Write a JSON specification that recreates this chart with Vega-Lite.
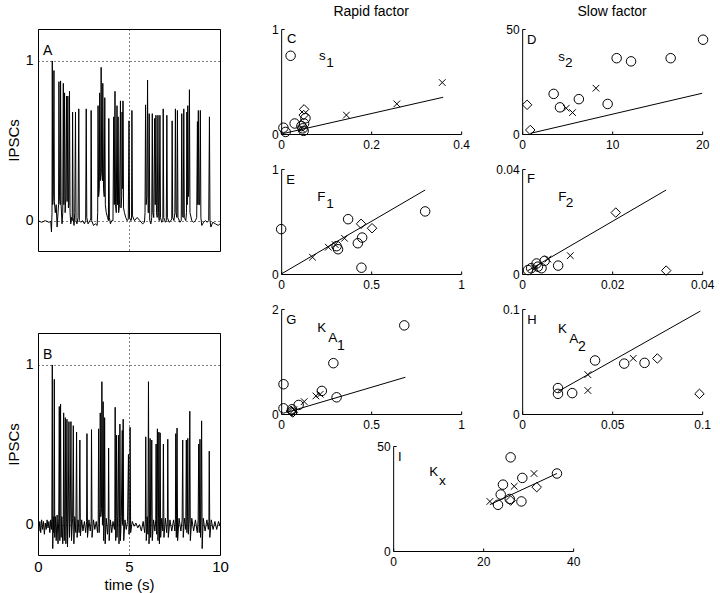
{
"$schema": "https://vega.github.io/schema/vega-lite/v6.json",
"padding": {"left": 5, "top": 5, "right": 5, "bottom": 3},
"config": {
  "font": "Liberation Sans",
  "view": {"stroke": null},
  "title": {"font": "Liberation Sans", "fontSize": 14, "fontWeight": "normal", "color": "black", "offset": 4},
  "axis": {"format": "~r", "domainColor": "black", "tickColor": "black", "labelColor": "black", "titleColor": "black", "grid": false, "labelFlush": false, "labelFont": "Liberation Sans", "titleFont": "Liberation Sans", "labelFontSize": 12, "tickSize": -3, "labelPadding": 8, "titleFontWeight": "normal", "domainWidth": 1, "tickWidth": 1, "labelOverlap": false}
},
"datasets": {
  "ts": [
    {"panel":"A","t":0,"v":0.0},{"panel":"A","t":0.2,"v":-0.01},{"panel":"A","t":0.4,"v":0.0},{"panel":"A","t":0.6,"v":-0.01},{"panel":"A","t":0.7,"v":-0.005},{"panel":"A","t":0.74,"v":-0.07},{"panel":"A","t":0.77,"v":0.05},{"panel":"A","t":0.785,"v":1.0},{"panel":"A","t":0.81,"v":0.1},{"panel":"A","t":0.84,"v":0.15},{"panel":"A","t":0.876,"v":0.94},{"panel":"A","t":0.9,"v":0.12},{"panel":"A","t":0.95,"v":0.05},{"panel":"A","t":1.0,"v":0.1},{"panel":"A","t":1.05,"v":-0.04},{"panel":"A","t":1.1,"v":0.05},{"panel":"A","t":1.13,"v":0.1},{"panel":"A","t":1.15,"v":0.87},{"panel":"A","t":1.18,"v":0.15},{"panel":"A","t":1.22,"v":0.1},{"panel":"A","t":1.24,"v":0.875},{"panel":"A","t":1.27,"v":0.1},{"panel":"A","t":1.32,"v":-0.02},{"panel":"A","t":1.36,"v":0.05},{"panel":"A","t":1.39,"v":0.86},{"panel":"A","t":1.42,"v":0.1},{"panel":"A","t":1.46,"v":0.80},{"panel":"A","t":1.49,"v":0.05},{"panel":"A","t":1.53,"v":0.15},{"panel":"A","t":1.57,"v":0.78},{"panel":"A","t":1.6,"v":0.12},{"panel":"A","t":1.64,"v":0.78},{"panel":"A","t":1.67,"v":0.08},{"panel":"A","t":1.7,"v":0.1},{"panel":"A","t":1.73,"v":0.81},{"panel":"A","t":1.76,"v":0.05},{"panel":"A","t":1.8,"v":-0.02},{"panel":"A","t":1.84,"v":0.02},{"panel":"A","t":1.88,"v":0.0},{"panel":"A","t":1.9,"v":0.68},{"panel":"A","t":1.93,"v":0.02},{"panel":"A","t":1.98,"v":-0.03},{"panel":"A","t":2.02,"v":0.05},{"panel":"A","t":2.06,"v":0.68},{"panel":"A","t":2.09,"v":0.0},{"panel":"A","t":2.14,"v":-0.02},{"panel":"A","t":2.2,"v":0.02},{"panel":"A","t":2.24,"v":0.70},{"panel":"A","t":2.27,"v":0.0},{"panel":"A","t":2.35,"v":-0.01},{"panel":"A","t":2.45,"v":0.0},{"panel":"A","t":2.55,"v":-0.02},{"panel":"A","t":2.62,"v":0.0},{"panel":"A","t":2.65,"v":0.70},{"panel":"A","t":2.68,"v":0.02},{"panel":"A","t":2.75,"v":-0.02},{"panel":"A","t":2.85,"v":0.0},{"panel":"A","t":2.9,"v":0.01},{"panel":"A","t":2.92,"v":0.69},{"panel":"A","t":2.95,"v":0.0},{"panel":"A","t":3.05,"v":-0.03},{"panel":"A","t":3.15,"v":-0.02},{"panel":"A","t":3.25,"v":-0.03},{"panel":"A","t":3.28,"v":0.05},{"panel":"A","t":3.30,"v":0.72},{"panel":"A","t":3.33,"v":0.15},{"panel":"A","t":3.37,"v":0.2},{"panel":"A","t":3.39,"v":0.80},{"panel":"A","t":3.42,"v":0.25},{"panel":"A","t":3.45,"v":0.3},{"panel":"A","t":3.47,"v":0.96},{"panel":"A","t":3.5,"v":0.3},{"panel":"A","t":3.54,"v":0.25},{"panel":"A","t":3.56,"v":0.86},{"panel":"A","t":3.6,"v":0.2},{"panel":"A","t":3.64,"v":0.15},{"panel":"A","t":3.67,"v":0.77},{"panel":"A","t":3.7,"v":0.1},{"panel":"A","t":3.75,"v":0.05},{"panel":"A","t":3.82,"v":0.02},{"panel":"A","t":3.87,"v":0.0},{"panel":"A","t":3.89,"v":0.64},{"panel":"A","t":3.92,"v":0.02},{"panel":"A","t":3.98,"v":-0.02},{"panel":"A","t":4.05,"v":0.0},{"panel":"A","t":4.12,"v":0.0},{"panel":"A","t":4.16,"v":0.65},{"panel":"A","t":4.19,"v":0.1},{"panel":"A","t":4.23,"v":0.81},{"panel":"A","t":4.26,"v":0.1},{"panel":"A","t":4.3,"v":0.05},{"panel":"A","t":4.34,"v":0.72},{"panel":"A","t":4.37,"v":0.1},{"panel":"A","t":4.40,"v":0.65},{"panel":"A","t":4.43,"v":0.05},{"panel":"A","t":4.48,"v":0.1},{"panel":"A","t":4.53,"v":0.75},{"panel":"A","t":4.56,"v":0.08},{"panel":"A","t":4.6,"v":0.15},{"panel":"A","t":4.62,"v":0.68},{"panel":"A","t":4.65,"v":0.2},{"panel":"A","t":4.67,"v":0.75},{"panel":"A","t":4.7,"v":0.08},{"panel":"A","t":4.75,"v":0.05},{"panel":"A","t":4.82,"v":0.02},{"panel":"A","t":4.9,"v":0.0},{"panel":"A","t":4.96,"v":0.01},{"panel":"A","t":5.0,"v":0.625},{"panel":"A","t":5.03,"v":0.02},{"panel":"A","t":5.1,"v":0.0},{"panel":"A","t":5.14,"v":0.01},{"panel":"A","t":5.16,"v":0.69},{"panel":"A","t":5.19,"v":0.03},{"panel":"A","t":5.3,"v":0.0},{"panel":"A","t":5.45,"v":0.02},{"panel":"A","t":5.6,"v":0.0},{"panel":"A","t":5.75,"v":-0.02},{"panel":"A","t":5.85,"v":-0.01},{"panel":"A","t":5.88,"v":0.05},{"panel":"A","t":5.91,"v":0.725},{"panel":"A","t":5.94,"v":0.1},{"panel":"A","t":5.98,"v":0.15},{"panel":"A","t":6.02,"v":0.88},{"panel":"A","t":6.05,"v":0.05},{"panel":"A","t":6.08,"v":0.05},{"panel":"A","t":6.11,"v":0.67},{"panel":"A","t":6.14,"v":0.0},{"panel":"A","t":6.2,"v":-0.02},{"panel":"A","t":6.25,"v":0.02},{"panel":"A","t":6.28,"v":0.67},{"panel":"A","t":6.31,"v":0.05},{"panel":"A","t":6.36,"v":0.02},{"panel":"A","t":6.41,"v":0.64},{"panel":"A","t":6.44,"v":0.1},{"panel":"A","t":6.48,"v":0.66},{"panel":"A","t":6.51,"v":0.05},{"panel":"A","t":6.55,"v":0.02},{"panel":"A","t":6.59,"v":0.66},{"panel":"A","t":6.62,"v":0.05},{"panel":"A","t":6.66,"v":0.0},{"panel":"A","t":6.70,"v":0.66},{"panel":"A","t":6.73,"v":0.02},{"panel":"A","t":6.8,"v":-0.01},{"panel":"A","t":6.86,"v":0.0},{"panel":"A","t":6.88,"v":0.70},{"panel":"A","t":6.91,"v":0.02},{"panel":"A","t":7.0,"v":-0.01},{"panel":"A","t":7.05,"v":0.0},{"panel":"A","t":7.08,"v":0.66},{"panel":"A","t":7.11,"v":0.02},{"panel":"A","t":7.2,"v":-0.01},{"panel":"A","t":7.3,"v":0.0},{"panel":"A","t":7.35,"v":0.01},{"panel":"A","t":7.37,"v":0.625},{"panel":"A","t":7.4,"v":0.02},{"panel":"A","t":7.47,"v":0.0},{"panel":"A","t":7.52,"v":0.05},{"panel":"A","t":7.55,"v":0.70},{"panel":"A","t":7.58,"v":0.05},{"panel":"A","t":7.63,"v":0.02},{"panel":"A","t":7.66,"v":0.69},{"panel":"A","t":7.69,"v":0.02},{"panel":"A","t":7.8,"v":-0.01},{"panel":"A","t":7.87,"v":0.0},{"panel":"A","t":7.9,"v":0.67},{"panel":"A","t":7.93,"v":0.03},{"panel":"A","t":7.98,"v":0.02},{"panel":"A","t":8.01,"v":0.70},{"panel":"A","t":8.04,"v":0.02},{"panel":"A","t":8.12,"v":0.0},{"panel":"A","t":8.16,"v":0.05},{"panel":"A","t":8.18,"v":0.68},{"panel":"A","t":8.2,"v":0.1},{"panel":"A","t":8.23,"v":0.72},{"panel":"A","t":8.26,"v":0.15},{"panel":"A","t":8.29,"v":0.2},{"panel":"A","t":8.32,"v":0.82},{"panel":"A","t":8.35,"v":0.05},{"panel":"A","t":8.45,"v":0.0},{"panel":"A","t":8.55,"v":-0.01},{"panel":"A","t":8.65,"v":0.0},{"panel":"A","t":8.72,"v":0.02},{"panel":"A","t":8.76,"v":0.62},{"panel":"A","t":8.78,"v":0.1},{"panel":"A","t":8.81,"v":0.69},{"panel":"A","t":8.84,"v":0.1},{"panel":"A","t":8.88,"v":0.1},{"panel":"A","t":8.92,"v":0.69},{"panel":"A","t":8.95,"v":0.02},{"panel":"A","t":9.0,"v":-0.03},{"panel":"A","t":9.1,"v":-0.01},{"panel":"A","t":9.2,"v":0.0},{"panel":"A","t":9.3,"v":-0.01},{"panel":"A","t":9.38,"v":0.0},{"panel":"A","t":9.42,"v":0.65},{"panel":"A","t":9.45,"v":0.0},{"panel":"A","t":9.5,"v":-0.04},{"panel":"A","t":9.6,"v":-0.01},{"panel":"A","t":9.75,"v":-0.02},{"panel":"A","t":9.9,"v":-0.03},{"panel":"A","t":10.0,"v":-0.02},
    {"panel":"B","t":0,"v":0.0},{"panel":"B","t":0.05,"v":-0.04},{"panel":"B","t":0.1,"v":0.02},{"panel":"B","t":0.15,"v":-0.05},{"panel":"B","t":0.2,"v":0.03},{"panel":"B","t":0.25,"v":-0.03},{"panel":"B","t":0.3,"v":0.02},{"panel":"B","t":0.35,"v":-0.06},{"panel":"B","t":0.4,"v":0.01},{"panel":"B","t":0.45,"v":-0.03},{"panel":"B","t":0.5,"v":0.03},{"panel":"B","t":0.55,"v":-0.02},{"panel":"B","t":0.6,"v":0.02},{"panel":"B","t":0.65,"v":-0.05},{"panel":"B","t":0.7,"v":0.03},{"panel":"B","t":0.74,"v":-0.03},{"panel":"B","t":0.76,"v":0.04},{"panel":"B","t":0.786,"v":1.0},{"panel":"B","t":0.81,"v":-0.15},{"panel":"B","t":0.84,"v":0.05},{"panel":"B","t":0.87,"v":-0.05},{"panel":"B","t":0.896,"v":0.91},{"panel":"B","t":0.92,"v":-0.08},{"panel":"B","t":0.96,"v":0.05},{"panel":"B","t":1.0,"v":-0.1},{"panel":"B","t":1.05,"v":0.06},{"panel":"B","t":1.1,"v":-0.12},{"panel":"B","t":1.14,"v":0.04},{"panel":"B","t":1.17,"v":0.74},{"panel":"B","t":1.2,"v":-0.1},{"panel":"B","t":1.24,"v":0.755},{"panel":"B","t":1.27,"v":-0.08},{"panel":"B","t":1.31,"v":0.05},{"panel":"B","t":1.36,"v":-0.12},{"panel":"B","t":1.39,"v":0.03},{"panel":"B","t":1.41,"v":0.70},{"panel":"B","t":1.44,"v":-0.1},{"panel":"B","t":1.47,"v":0.02},{"panel":"B","t":1.50,"v":0.67},{"panel":"B","t":1.53,"v":-0.12},{"panel":"B","t":1.56,"v":0.03},{"panel":"B","t":1.59,"v":0.66},{"panel":"B","t":1.62,"v":-0.14},{"panel":"B","t":1.66,"v":0.05},{"panel":"B","t":1.70,"v":0.645},{"panel":"B","t":1.73,"v":-0.08},{"panel":"B","t":1.77,"v":0.04},{"panel":"B","t":1.81,"v":0.645},{"panel":"B","t":1.84,"v":-0.1},{"panel":"B","t":1.9,"v":0.04},{"panel":"B","t":1.94,"v":0.62},{"panel":"B","t":1.97,"v":-0.12},{"panel":"B","t":2.02,"v":0.05},{"panel":"B","t":2.08,"v":-0.05},{"panel":"B","t":2.12,"v":0.58},{"panel":"B","t":2.15,"v":-0.08},{"panel":"B","t":2.2,"v":0.03},{"panel":"B","t":2.26,"v":-0.05},{"panel":"B","t":2.30,"v":0.53},{"panel":"B","t":2.33,"v":-0.07},{"panel":"B","t":2.4,"v":0.03},{"panel":"B","t":2.47,"v":-0.04},{"panel":"B","t":2.55,"v":0.02},{"panel":"B","t":2.62,"v":-0.05},{"panel":"B","t":2.67,"v":0.02},{"panel":"B","t":2.69,"v":0.57},{"panel":"B","t":2.72,"v":-0.08},{"panel":"B","t":2.8,"v":0.03},{"panel":"B","t":2.87,"v":-0.04},{"panel":"B","t":2.92,"v":0.02},{"panel":"B","t":2.94,"v":0.595},{"panel":"B","t":2.97,"v":-0.08},{"panel":"B","t":3.05,"v":0.03},{"panel":"B","t":3.12,"v":-0.03},{"panel":"B","t":3.2,"v":0.02},{"panel":"B","t":3.27,"v":-0.05},{"panel":"B","t":3.31,"v":0.03},{"panel":"B","t":3.33,"v":0.60},{"panel":"B","t":3.36,"v":-0.05},{"panel":"B","t":3.40,"v":0.1},{"panel":"B","t":3.42,"v":0.70},{"panel":"B","t":3.45,"v":0.05},{"panel":"B","t":3.49,"v":0.1},{"panel":"B","t":3.51,"v":0.895},{"panel":"B","t":3.54,"v":0.0},{"panel":"B","t":3.56,"v":0.05},{"panel":"B","t":3.58,"v":0.77},{"panel":"B","t":3.61,"v":-0.1},{"panel":"B","t":3.64,"v":0.05},{"panel":"B","t":3.66,"v":0.67},{"panel":"B","t":3.69,"v":-0.12},{"panel":"B","t":3.75,"v":0.04},{"panel":"B","t":3.82,"v":-0.06},{"panel":"B","t":3.86,"v":0.02},{"panel":"B","t":3.88,"v":0.48},{"panel":"B","t":3.91,"v":-0.1},{"panel":"B","t":3.98,"v":0.03},{"panel":"B","t":4.05,"v":-0.05},{"panel":"B","t":4.12,"v":0.02},{"panel":"B","t":4.2,"v":-0.03},{"panel":"B","t":4.22,"v":0.04},{"panel":"B","t":4.24,"v":0.735},{"panel":"B","t":4.27,"v":-0.1},{"panel":"B","t":4.29,"v":0.05},{"panel":"B","t":4.31,"v":0.56},{"panel":"B","t":4.34,"v":-0.08},{"panel":"B","t":4.38,"v":0.05},{"panel":"B","t":4.42,"v":0.56},{"panel":"B","t":4.45,"v":-0.12},{"panel":"B","t":4.48,"v":0.04},{"panel":"B","t":4.50,"v":0.63},{"panel":"B","t":4.53,"v":-0.1},{"panel":"B","t":4.58,"v":0.05},{"panel":"B","t":4.63,"v":0.59},{"panel":"B","t":4.65,"v":0.0},{"panel":"B","t":4.68,"v":0.66},{"panel":"B","t":4.71,"v":-0.1},{"panel":"B","t":4.78,"v":0.03},{"panel":"B","t":4.85,"v":-0.03},{"panel":"B","t":4.92,"v":0.02},{"panel":"B","t":4.97,"v":0.44},{"panel":"B","t":5.0,"v":-0.06},{"panel":"B","t":5.04,"v":0.02},{"panel":"B","t":5.06,"v":0.61},{"panel":"B","t":5.09,"v":-0.05},{"panel":"B","t":5.18,"v":0.02},{"panel":"B","t":5.28,"v":-0.01},{"panel":"B","t":5.38,"v":0.01},{"panel":"B","t":5.48,"v":-0.02},{"panel":"B","t":5.58,"v":0.0},{"panel":"B","t":5.68,"v":-0.04},{"panel":"B","t":5.78,"v":0.02},{"panel":"B","t":5.86,"v":-0.05},{"panel":"B","t":5.9,"v":0.03},{"panel":"B","t":5.92,"v":0.55},{"panel":"B","t":5.95,"v":-0.1},{"panel":"B","t":6.0,"v":0.05},{"panel":"B","t":6.04,"v":-0.06},{"panel":"B","t":6.07,"v":0.895},{"panel":"B","t":6.1,"v":-0.12},{"panel":"B","t":6.13,"v":0.04},{"panel":"B","t":6.16,"v":0.54},{"panel":"B","t":6.19,"v":-0.08},{"panel":"B","t":6.22,"v":0.05},{"panel":"B","t":6.25,"v":0.53},{"panel":"B","t":6.28,"v":-0.1},{"panel":"B","t":6.35,"v":0.03},{"panel":"B","t":6.42,"v":-0.04},{"panel":"B","t":6.47,"v":0.03},{"panel":"B","t":6.49,"v":0.505},{"panel":"B","t":6.52,"v":-0.06},{"panel":"B","t":6.56,"v":0.60},{"panel":"B","t":6.59,"v":-0.1},{"panel":"B","t":6.62,"v":0.04},{"panel":"B","t":6.64,"v":0.58},{"panel":"B","t":6.67,"v":-0.12},{"panel":"B","t":6.69,"v":0.02},{"panel":"B","t":6.71,"v":0.575},{"panel":"B","t":6.74,"v":-0.08},{"panel":"B","t":6.8,"v":0.04},{"panel":"B","t":6.86,"v":-0.04},{"panel":"B","t":6.89,"v":0.505},{"panel":"B","t":6.92,"v":-0.08},{"panel":"B","t":7.0,"v":0.04},{"panel":"B","t":7.07,"v":-0.05},{"panel":"B","t":7.11,"v":0.03},{"panel":"B","t":7.13,"v":0.535},{"panel":"B","t":7.16,"v":-0.08},{"panel":"B","t":7.25,"v":0.03},{"panel":"B","t":7.35,"v":-0.04},{"panel":"B","t":7.45,"v":0.03},{"panel":"B","t":7.52,"v":-0.04},{"panel":"B","t":7.55,"v":0.03},{"panel":"B","t":7.57,"v":0.57},{"panel":"B","t":7.6,"v":-0.08},{"panel":"B","t":7.64,"v":0.605},{"panel":"B","t":7.67,"v":-0.1},{"panel":"B","t":7.75,"v":0.04},{"panel":"B","t":7.85,"v":-0.04},{"panel":"B","t":7.92,"v":0.03},{"panel":"B","t":7.95,"v":0.53},{"panel":"B","t":7.98,"v":-0.08},{"panel":"B","t":8.05,"v":0.04},{"panel":"B","t":8.12,"v":-0.03},{"panel":"B","t":8.15,"v":0.53},{"panel":"B","t":8.18,"v":-0.05},{"panel":"B","t":8.21,"v":0.05},{"panel":"B","t":8.23,"v":0.54},{"panel":"B","t":8.26,"v":-0.06},{"panel":"B","t":8.31,"v":0.03},{"panel":"B","t":8.34,"v":0.71},{"panel":"B","t":8.37,"v":-0.1},{"panel":"B","t":8.45,"v":0.04},{"panel":"B","t":8.55,"v":-0.04},{"panel":"B","t":8.65,"v":0.03},{"panel":"B","t":8.75,"v":-0.05},{"panel":"B","t":8.8,"v":0.03},{"panel":"B","t":8.83,"v":0.505},{"panel":"B","t":8.86,"v":-0.05},{"panel":"B","t":8.9,"v":0.535},{"panel":"B","t":8.93,"v":-0.08},{"panel":"B","t":8.96,"v":0.05},{"panel":"B","t":8.99,"v":0.65},{"panel":"B","t":9.02,"v":-0.15},{"panel":"B","t":9.08,"v":0.04},{"panel":"B","t":9.18,"v":-0.04},{"panel":"B","t":9.28,"v":0.03},{"panel":"B","t":9.36,"v":-0.03},{"panel":"B","t":9.39,"v":0.02},{"panel":"B","t":9.41,"v":0.46},{"panel":"B","t":9.44,"v":-0.08},{"panel":"B","t":9.52,"v":0.03},{"panel":"B","t":9.62,"v":-0.03},{"panel":"B","t":9.72,"v":0.02},{"panel":"B","t":9.82,"v":-0.03},{"panel":"B","t":9.92,"v":0.02},{"panel":"B","t":10.0,"v":-0.01}
  ],
  "pts": [
    {"panel":"C","x":0.021,"y":0.745,"m":"o"},{"panel":"C","x":0.005,"y":0.06,"m":"o"},{"panel":"C","x":0.01,"y":0.02,"m":"o"},{"panel":"C","x":0.03,"y":0.10,"m":"o"},{"panel":"C","x":0.045,"y":0.076,"m":"o"},{"panel":"C","x":0.048,"y":0.054,"m":"o"},{"panel":"C","x":0.051,"y":0.10,"m":"o"},{"panel":"C","x":0.054,"y":0.15,"m":"o"},{"panel":"C","x":0.05,"y":0.03,"m":"o"},
    {"panel":"C","x":0.051,"y":0.235,"m":"d"},{"panel":"C","x":0.05,"y":0.18,"m":"d"},
    {"panel":"C","x":0.145,"y":0.18,"m":"x"},{"panel":"C","x":0.257,"y":0.287,"m":"x"},{"panel":"C","x":0.358,"y":0.49,"m":"x"},{"panel":"C","x":0.045,"y":0.05,"m":"x"},
    {"panel":"D","x":20.1,"y":44.9,"m":"o"},{"panel":"D","x":10.5,"y":36.1,"m":"o"},{"panel":"D","x":12.1,"y":34.6,"m":"o"},{"panel":"D","x":16.5,"y":36.1,"m":"o"},{"panel":"D","x":3.5,"y":19.1,"m":"o"},{"panel":"D","x":4.2,"y":12.7,"m":"o"},{"panel":"D","x":6.3,"y":16.6,"m":"o"},{"panel":"D","x":9.5,"y":14.3,"m":"o"},
    {"panel":"D","x":8.2,"y":21.8,"m":"x"},{"panel":"D","x":4.9,"y":12.3,"m":"x"},{"panel":"D","x":5.6,"y":10.2,"m":"x"},
    {"panel":"D","x":0.55,"y":13.9,"m":"d"},{"panel":"D","x":0.9,"y":1.9,"m":"d"},
    {"panel":"E","x":0.0,"y":0.427,"m":"o"},{"panel":"E","x":0.372,"y":0.522,"m":"o"},{"panel":"E","x":0.80,"y":0.596,"m":"o"},{"panel":"E","x":0.45,"y":0.347,"m":"o"},{"panel":"E","x":0.426,"y":0.293,"m":"o"},{"panel":"E","x":0.446,"y":0.06,"m":"o"},{"panel":"E","x":0.308,"y":0.265,"m":"o"},{"panel":"E","x":0.316,"y":0.236,"m":"o"},
    {"panel":"E","x":0.444,"y":0.478,"m":"d"},{"panel":"E","x":0.505,"y":0.436,"m":"d"},
    {"panel":"E","x":0.174,"y":0.16,"m":"x"},{"panel":"E","x":0.262,"y":0.255,"m":"x"},{"panel":"E","x":0.352,"y":0.34,"m":"x"},{"panel":"E","x":0.30,"y":0.28,"m":"x"},
    {"panel":"F","x":0.0013,"y":0.0015,"m":"o"},{"panel":"F","x":0.002,"y":0.0022,"m":"o"},{"panel":"F","x":0.0032,"y":0.004,"m":"o"},{"panel":"F","x":0.0043,"y":0.0022,"m":"o"},{"panel":"F","x":0.005,"y":0.005,"m":"o"},{"panel":"F","x":0.008,"y":0.0032,"m":"o"},{"panel":"F","x":0.0035,"y":0.0028,"m":"o"},
    {"panel":"F","x":0.0208,"y":0.0234,"m":"d"},{"panel":"F","x":0.032,"y":0.0013,"m":"d"},
    {"panel":"F","x":0.0107,"y":0.007,"m":"x"},{"panel":"F","x":0.0028,"y":0.0022,"m":"x"},{"panel":"F","x":0.0057,"y":0.0057,"m":"x"},
    {"panel":"G","x":0.684,"y":1.688,"m":"o"},{"panel":"G","x":0.29,"y":0.968,"m":"o"},{"panel":"G","x":0.013,"y":0.567,"m":"o"},{"panel":"G","x":0.013,"y":0.108,"m":"o"},{"panel":"G","x":0.226,"y":0.44,"m":"o"},{"panel":"G","x":0.308,"y":0.318,"m":"o"},{"panel":"G","x":0.097,"y":0.172,"m":"o"},{"panel":"G","x":0.06,"y":0.09,"m":"o"},
    {"panel":"G","x":0.059,"y":0.045,"m":"d"},{"panel":"G","x":0.065,"y":0.03,"m":"d"},{"panel":"G","x":0.055,"y":0.06,"m":"d"},
    {"panel":"G","x":0.128,"y":0.236,"m":"x"},{"panel":"G","x":0.193,"y":0.344,"m":"x"},{"panel":"G","x":0.217,"y":0.376,"m":"x"},{"panel":"G","x":0.07,"y":0.08,"m":"x"},
    {"panel":"H","x":0.0199,"y":0.0247,"m":"o"},{"panel":"H","x":0.0199,"y":0.0192,"m":"o"},{"panel":"H","x":0.0278,"y":0.0199,"m":"o"},{"panel":"H","x":0.0405,"y":0.051,"m":"o"},{"panel":"H","x":0.0567,"y":0.048,"m":"o"},{"panel":"H","x":0.068,"y":0.0487,"m":"o"},
    {"panel":"H","x":0.0365,"y":0.0375,"m":"x"},{"panel":"H","x":0.0365,"y":0.0224,"m":"x"},{"panel":"H","x":0.0617,"y":0.053,"m":"x"},
    {"panel":"H","x":0.0751,"y":0.0529,"m":"d"},{"panel":"H","x":0.0985,"y":0.0192,"m":"d"},
    {"panel":"I","x":26.1,"y":44.6,"m":"o"},{"panel":"I","x":36.4,"y":36.9,"m":"o"},{"panel":"I","x":28.7,"y":34.8,"m":"o"},{"panel":"I","x":24.4,"y":31.6,"m":"o"},{"panel":"I","x":23.9,"y":26.9,"m":"o"},{"panel":"I","x":23.3,"y":22.0,"m":"o"},{"panel":"I","x":25.9,"y":24.8,"m":"o"},{"panel":"I","x":28.5,"y":23.6,"m":"o"},
    {"panel":"I","x":21.5,"y":23.6,"m":"x"},{"panel":"I","x":26.9,"y":30.8,"m":"x"},{"panel":"I","x":31.3,"y":36.9,"m":"x"},
    {"panel":"I","x":26.1,"y":24.0,"m":"d"},{"panel":"I","x":31.9,"y":30.4,"m":"d"}
  ],
  "lines": [
    {"panel":"C","x":0,"y":0},{"panel":"C","x":0.36,"y":0.35},
    {"panel":"D","x":0.9,"y":0.3},{"panel":"D","x":20,"y":19.4},
    {"panel":"E","x":0,"y":0},{"panel":"E","x":0.8,"y":0.8},
    {"panel":"F","x":0.0013,"y":0.0013},{"panel":"F","x":0.032,"y":0.032},
    {"panel":"G","x":0.03,"y":0.03},{"panel":"G","x":0.69,"y":0.70},
    {"panel":"H","x":0.02,"y":0.0215},{"panel":"H","x":0.099,"y":0.098},
    {"panel":"I","x":21.5,"y":22.1},{"panel":"I","x":36.4,"y":36.9}
  ],
  "labels": [
    {"panel":"A","x":0.27,"y":1.06,"text":"A","kind":"letter"},
    {"panel":"B","x":0.27,"y":1.06,"text":"B","kind":"letter"},
    {"panel":"C","x":0.013,"y":0.905,"text":"C","kind":"letter"},{"panel":"C","x":0.084,"y":0.743,"text":"s","kind":"main"},{"panel":"C","x":0.1,"y":0.676,"text":"1","kind":"sub"},
    {"panel":"D","x":0.55,"y":45,"text":"D","kind":"letter"},{"panel":"D","x":4.0,"y":36.9,"text":"s","kind":"main"},{"panel":"D","x":4.75,"y":33.6,"text":"2","kind":"sub"},
    {"panel":"E","x":0.028,"y":0.9,"text":"E","kind":"letter"},{"panel":"E","x":0.2,"y":0.733,"text":"F","kind":"main"},{"panel":"E","x":0.25,"y":0.671,"text":"1","kind":"sub"},
    {"panel":"F","x":0.0011,"y":0.0362,"text":"F","kind":"letter"},{"panel":"F","x":0.008,"y":0.0293,"text":"F","kind":"main"},{"panel":"F","x":0.0097,"y":0.0269,"text":"2","kind":"sub"},
    {"panel":"G","x":0.028,"y":1.8,"text":"G","kind":"letter"},{"panel":"G","x":0.2,"y":1.63,"text":"K","kind":"main"},{"panel":"G","x":0.262,"y":1.44,"text":"A","kind":"sub"},{"panel":"G","x":0.31,"y":1.29,"text":"1","kind":"subsub"},
    {"panel":"H","x":0.0028,"y":0.09,"text":"H","kind":"letter"},{"panel":"H","x":0.0199,"y":0.081,"text":"K","kind":"main"},{"panel":"H","x":0.0261,"y":0.0719,"text":"A","kind":"sub"},{"panel":"H","x":0.031,"y":0.064,"text":"2","kind":"subsub"},
    {"panel":"I","x":1.1,"y":45,"text":"I","kind":"letter"},{"panel":"I","x":8.0,"y":37.5,"text":"K","kind":"main"},{"panel":"I","x":10.2,"y":33.2,"text":"x","kind":"sub"}
  ]
},
"hconcat": [
  {
    "vconcat": [
      {
        "width": 182, "height": 222,
        "title": {"text": " ", "offset": 4},
        "view": {"stroke": "black", "strokeWidth": 1},
        "encoding": {
          "x": {"field": "t", "type": "quantitative", "scale": {"domain": [0, 10], "nice": false, "zero": false},
                "axis": {"values": [0, 5, 10], "grid": true, "gridDash": [1, 3], "gridColor": "black", "gridOpacity": 1, "labels": false, "ticks": false, "domain": false, "title": null}},
          "y": {"field": "v", "type": "quantitative", "scale": {"domain": [-0.19, 1.2], "nice": false, "zero": false},
                "axis": {"values": [0, 1], "grid": true, "gridDash": [1, 3], "gridColor": "black", "gridOpacity": 1, "ticks": false, "domain": false, "labelFontSize": 14, "labelPadding": 5, "title": "IPSCs", "titleFontSize": 15, "titlePadding": 4}}
        },
        "layer": [
          {"data": {"name": "ts"}, "transform": [{"filter": "datum.panel === 'A'"}], "mark": {"type": "line", "color": "black", "strokeWidth": 1, "clip": true}, "encoding": {}},
          {"data": {"name": "labels"}, "transform": [{"filter": "datum.panel === 'A'"}, {"calculate": "datum.x", "as": "t"}, {"calculate": "datum.y", "as": "v"}], "mark": {"type": "text", "align": "left", "baseline": "middle", "color": "black", "fontSize": 14}, "encoding": {"text": {"field": "text"}}}
        ]
      },
      {
        "width": 182, "height": 222,
        "view": {"stroke": "black", "strokeWidth": 1},
        "encoding": {
          "x": {"field": "t", "type": "quantitative", "scale": {"domain": [0, 10], "nice": false, "zero": false},
                "axis": {"values": [0, 5, 10], "grid": true, "gridDash": [1, 3], "gridColor": "black", "gridOpacity": 1, "ticks": false, "domain": false, "labelFontSize": 15, "labelPadding": 4, "title": "time (s)", "titleFontSize": 15, "titlePadding": 3}},
          "y": {"field": "v", "type": "quantitative", "scale": {"domain": [-0.19, 1.2], "nice": false, "zero": false},
                "axis": {"values": [0, 1], "grid": true, "gridDash": [1, 3], "gridColor": "black", "gridOpacity": 1, "ticks": false, "domain": false, "labelFontSize": 14, "labelPadding": 5, "title": "IPSCs", "titleFontSize": 15, "titlePadding": 4}}
        },
        "layer": [
          {"data": {"name": "ts"}, "transform": [{"filter": "datum.panel === 'B'"}], "mark": {"type": "line", "color": "black", "strokeWidth": 1, "clip": true}, "encoding": {}},
          {"data": {"name": "labels"}, "transform": [{"filter": "datum.panel === 'B'"}, {"calculate": "datum.x", "as": "t"}, {"calculate": "datum.y", "as": "v"}], "mark": {"type": "text", "align": "left", "baseline": "middle", "color": "black", "fontSize": 14}, "encoding": {"text": {"field": "text"}}}
        ]
      }
    ],
    "spacing": 82, "bounds": "flush",
    "resolve": {"scale": {"x": "independent", "y": "independent"}}
  },
  {
    "vconcat": [
      {
        "concat": [
          {
            "width": 180, "height": 105,
            "title": {"text": "Rapid factor", "offset": 4},
            "encoding": {
              "x": {"field": "x", "type": "quantitative", "scale": {"domain": [0, 0.4], "nice": false, "zero": false}, "axis": {"values": [0, 0.2, 0.4], "title": null}},
              "y": {"field": "y", "type": "quantitative", "scale": {"domain": [0, 1], "nice": false, "zero": false}, "axis": {"values": [0, 1], "title": null, "labelPadding": 6}}
            },
            "layer": [
              {"data": {"name": "lines"}, "transform": [{"filter": "datum.panel === 'C'"}], "mark": {"type": "line", "color": "black", "strokeWidth": 1}, "encoding": {}},
              {"data": {"name": "pts"}, "transform": [{"filter": "datum.panel === 'C'"}], "mark": {"type": "point", "filled": false, "color": "black", "strokeWidth": 1, "size": 90, "opacity": 1}, "encoding": {"shape": {"field": "m", "type": "nominal", "scale": {"domain": ["o", "x", "d"], "range": ["circle", "M-0.7,-0.7L0.7,0.7M-0.7,0.7L0.7,-0.7", "diamond"]}, "legend": null}}},
              {"data": {"name": "labels"}, "transform": [{"filter": "datum.panel === 'C'"}], "mark": {"type": "text", "align": "left", "baseline": "middle", "color": "black"}, "encoding": {"text": {"field": "text"}, "size": {"field": "kind", "type": "ordinal", "scale": {"domain": ["letter", "main", "sub", "subsub"], "range": [13, 14, 9, 8]}, "legend": null}}}
            ]
          },
          {
            "width": 180, "height": 105,
            "title": {"text": "Slow factor", "offset": 4},
            "encoding": {
              "x": {"field": "x", "type": "quantitative", "scale": {"domain": [0, 20], "nice": false, "zero": false}, "axis": {"values": [0, 10, 20], "title": null}},
              "y": {"field": "y", "type": "quantitative", "scale": {"domain": [0, 50], "nice": false, "zero": false}, "axis": {"values": [0, 50], "title": null, "labelPadding": 6}}
            },
            "layer": [
              {"data": {"name": "lines"}, "transform": [{"filter": "datum.panel === 'D'"}], "mark": {"type": "line", "color": "black", "strokeWidth": 1}, "encoding": {}},
              {"data": {"name": "pts"}, "transform": [{"filter": "datum.panel === 'D'"}], "mark": {"type": "point", "filled": false, "color": "black", "strokeWidth": 1, "size": 90, "opacity": 1}, "encoding": {"shape": {"field": "m", "type": "nominal", "scale": {"domain": ["o", "x", "d"], "range": ["circle", "M-0.7,-0.7L0.7,0.7M-0.7,0.7L0.7,-0.7", "diamond"]}, "legend": null}}},
              {"data": {"name": "labels"}, "transform": [{"filter": "datum.panel === 'D'"}], "mark": {"type": "text", "align": "left", "baseline": "middle", "color": "black"}, "encoding": {"text": {"field": "text"}, "size": {"field": "kind", "type": "ordinal", "scale": {"domain": ["letter", "main", "sub", "subsub"], "range": [13, 14, 9, 8]}, "legend": null}}}
            ]
          },
          {
            "width": 180, "height": 105,
            "encoding": {
              "x": {"field": "x", "type": "quantitative", "scale": {"domain": [0, 1], "nice": false, "zero": false}, "axis": {"values": [0, 0.5, 1], "title": null}},
              "y": {"field": "y", "type": "quantitative", "scale": {"domain": [0, 1], "nice": false, "zero": false}, "axis": {"values": [0, 1], "title": null, "labelPadding": 6}}
            },
            "layer": [
              {"data": {"name": "lines"}, "transform": [{"filter": "datum.panel === 'E'"}], "mark": {"type": "line", "color": "black", "strokeWidth": 1}, "encoding": {}},
              {"data": {"name": "pts"}, "transform": [{"filter": "datum.panel === 'E'"}], "mark": {"type": "point", "filled": false, "color": "black", "strokeWidth": 1, "size": 90, "opacity": 1}, "encoding": {"shape": {"field": "m", "type": "nominal", "scale": {"domain": ["o", "x", "d"], "range": ["circle", "M-0.7,-0.7L0.7,0.7M-0.7,0.7L0.7,-0.7", "diamond"]}, "legend": null}}},
              {"data": {"name": "labels"}, "transform": [{"filter": "datum.panel === 'E'"}], "mark": {"type": "text", "align": "left", "baseline": "middle", "color": "black"}, "encoding": {"text": {"field": "text"}, "size": {"field": "kind", "type": "ordinal", "scale": {"domain": ["letter", "main", "sub", "subsub"], "range": [13, 14, 9, 8]}, "legend": null}}}
            ]
          },
          {
            "width": 180, "height": 105,
            "encoding": {
              "x": {"field": "x", "type": "quantitative", "scale": {"domain": [0, 0.04], "nice": false, "zero": false}, "axis": {"values": [0, 0.02, 0.04], "title": null}},
              "y": {"field": "y", "type": "quantitative", "scale": {"domain": [0, 0.04], "nice": false, "zero": false}, "axis": {"values": [0, 0.04], "title": null, "labelPadding": 6}}
            },
            "layer": [
              {"data": {"name": "lines"}, "transform": [{"filter": "datum.panel === 'F'"}], "mark": {"type": "line", "color": "black", "strokeWidth": 1}, "encoding": {}},
              {"data": {"name": "pts"}, "transform": [{"filter": "datum.panel === 'F'"}], "mark": {"type": "point", "filled": false, "color": "black", "strokeWidth": 1, "size": 90, "opacity": 1}, "encoding": {"shape": {"field": "m", "type": "nominal", "scale": {"domain": ["o", "x", "d"], "range": ["circle", "M-0.7,-0.7L0.7,0.7M-0.7,0.7L0.7,-0.7", "diamond"]}, "legend": null}}},
              {"data": {"name": "labels"}, "transform": [{"filter": "datum.panel === 'F'"}], "mark": {"type": "text", "align": "left", "baseline": "middle", "color": "black"}, "encoding": {"text": {"field": "text"}, "size": {"field": "kind", "type": "ordinal", "scale": {"domain": ["letter", "main", "sub", "subsub"], "range": [13, 14, 9, 8]}, "legend": null}}}
            ]
          },
          {
            "width": 180, "height": 105,
            "encoding": {
              "x": {"field": "x", "type": "quantitative", "scale": {"domain": [0, 1], "nice": false, "zero": false}, "axis": {"values": [0, 0.5, 1], "title": null}},
              "y": {"field": "y", "type": "quantitative", "scale": {"domain": [0, 2], "nice": false, "zero": false}, "axis": {"values": [0, 2], "title": null, "labelPadding": 6}}
            },
            "layer": [
              {"data": {"name": "lines"}, "transform": [{"filter": "datum.panel === 'G'"}], "mark": {"type": "line", "color": "black", "strokeWidth": 1}, "encoding": {}},
              {"data": {"name": "pts"}, "transform": [{"filter": "datum.panel === 'G'"}], "mark": {"type": "point", "filled": false, "color": "black", "strokeWidth": 1, "size": 90, "opacity": 1}, "encoding": {"shape": {"field": "m", "type": "nominal", "scale": {"domain": ["o", "x", "d"], "range": ["circle", "M-0.7,-0.7L0.7,0.7M-0.7,0.7L0.7,-0.7", "diamond"]}, "legend": null}}},
              {"data": {"name": "labels"}, "transform": [{"filter": "datum.panel === 'G'"}], "mark": {"type": "text", "align": "left", "baseline": "middle", "color": "black"}, "encoding": {"text": {"field": "text"}, "size": {"field": "kind", "type": "ordinal", "scale": {"domain": ["letter", "main", "sub", "subsub"], "range": [13, 14, 9, 8]}, "legend": null}}}
            ]
          },
          {
            "width": 180, "height": 105,
            "encoding": {
              "x": {"field": "x", "type": "quantitative", "scale": {"domain": [0, 0.1], "nice": false, "zero": false}, "axis": {"values": [0, 0.05, 0.1], "title": null}},
              "y": {"field": "y", "type": "quantitative", "scale": {"domain": [0, 0.1], "nice": false, "zero": false}, "axis": {"values": [0, 0.1], "title": null, "labelPadding": 6}}
            },
            "layer": [
              {"data": {"name": "lines"}, "transform": [{"filter": "datum.panel === 'H'"}], "mark": {"type": "line", "color": "black", "strokeWidth": 1}, "encoding": {}},
              {"data": {"name": "pts"}, "transform": [{"filter": "datum.panel === 'H'"}], "mark": {"type": "point", "filled": false, "color": "black", "strokeWidth": 1, "size": 90, "opacity": 1}, "encoding": {"shape": {"field": "m", "type": "nominal", "scale": {"domain": ["o", "x", "d"], "range": ["circle", "M-0.7,-0.7L0.7,0.7M-0.7,0.7L0.7,-0.7", "diamond"]}, "legend": null}}},
              {"data": {"name": "labels"}, "transform": [{"filter": "datum.panel === 'H'"}], "mark": {"type": "text", "align": "left", "baseline": "middle", "color": "black"}, "encoding": {"text": {"field": "text"}, "size": {"field": "kind", "type": "ordinal", "scale": {"domain": ["letter", "main", "sub", "subsub"], "range": [13, 14, 9, 8]}, "legend": null}}}
            ]
          }
        ],
        "columns": 2,
        "spacing": {"row": 35, "column": 61}, "bounds": "flush",
        "resolve": {"scale": {"x": "independent", "y": "independent"}}
      },
      {
        "width": 180, "height": 105,
        "title": {"text": " ", "orient": "right", "offset": 8},
        "encoding": {
          "x": {"field": "x", "type": "quantitative", "scale": {"domain": [0, 40], "nice": false, "zero": false}, "axis": {"values": [0, 20, 40], "title": null}},
          "y": {"field": "y", "type": "quantitative", "scale": {"domain": [0, 50], "nice": false, "zero": false}, "axis": {"values": [0, 50], "title": null, "labelPadding": 6}}
        },
        "layer": [
          {"data": {"name": "lines"}, "transform": [{"filter": "datum.panel === 'I'"}], "mark": {"type": "line", "color": "black", "strokeWidth": 1}, "encoding": {}},
          {"data": {"name": "pts"}, "transform": [{"filter": "datum.panel === 'I'"}], "mark": {"type": "point", "filled": false, "color": "black", "strokeWidth": 1, "size": 90, "opacity": 1}, "encoding": {"shape": {"field": "m", "type": "nominal", "scale": {"domain": ["o", "x", "d"], "range": ["circle", "M-0.7,-0.7L0.7,0.7M-0.7,0.7L0.7,-0.7", "diamond"]}, "legend": null}}},
          {"data": {"name": "labels"}, "transform": [{"filter": "datum.panel === 'I'"}], "mark": {"type": "text", "align": "left", "baseline": "middle", "color": "black"}, "encoding": {"text": {"field": "text"}, "size": {"field": "kind", "type": "ordinal", "scale": {"domain": ["letter", "main", "sub", "subsub"], "range": [13, 14, 9, 8]}, "legend": null}}}
        ]
      }
    ],
    "spacing": 10, "center": true,
    "resolve": {"scale": {"x": "independent", "y": "independent"}}
  }
],
"spacing": 42,
"resolve": {"scale": {"x": "independent", "y": "independent"}}
}
